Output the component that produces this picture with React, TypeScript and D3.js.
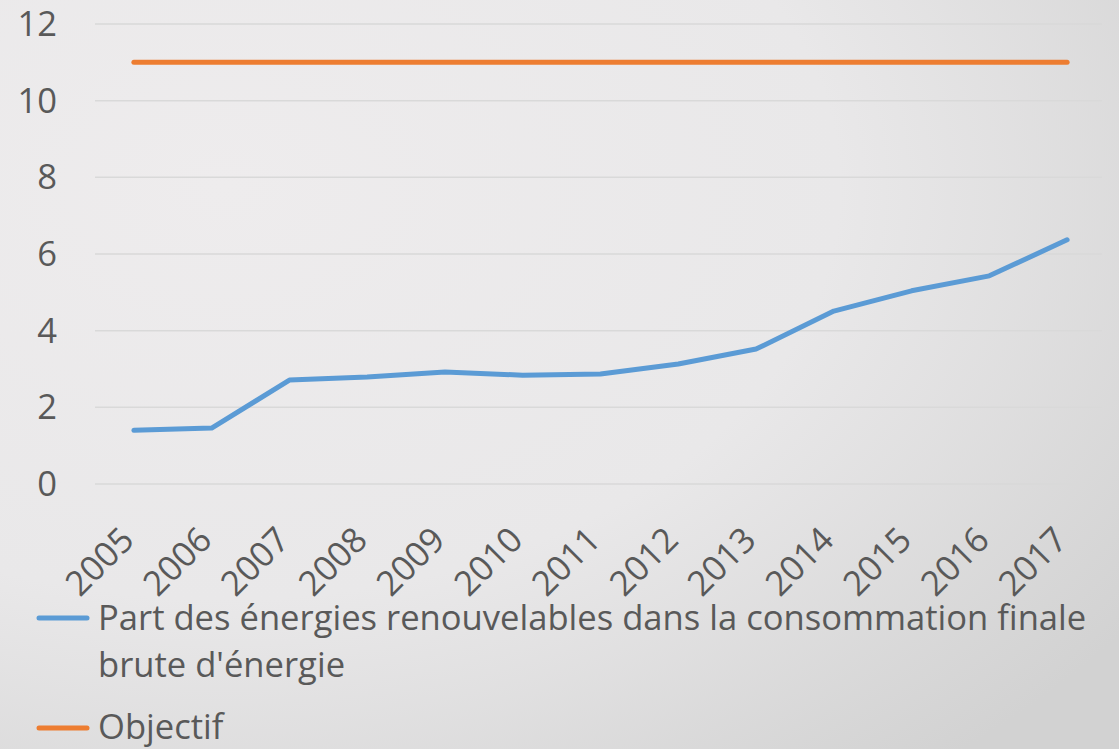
import React, { useEffect, useRef } from "react";
import * as d3 from "d3";

const years = ["2005","2006","2007","2008","2009","2010","2011","2012","2013","2014","2015","2016","2017"];
const shareValues = [1.40, 1.46, 2.71, 2.79, 2.92, 2.84, 2.87, 3.13, 3.52, 4.51, 5.04, 5.43, 6.37];
const targetValues = [11, 11, 11, 11, 11, 11, 11, 11, 11, 11, 11, 11, 11];
const yTicks = [0, 2, 4, 6, 8, 10, 12];
const seriesNames = ["Part des énergies renouvelables dans la consommation finale", "brute d'énergie", "Objectif"];

const W = 1119, H = 749;
const FONT = "'Open Sans', sans-serif";
const FS = 34.6;

export default function App() {
  const ref = useRef<SVGSVGElement>(null);
  useEffect(() => {
    document.body.style.margin = "0";
    const svg = d3.select(ref.current);
    svg.selectAll("*").remove();

    const defs = svg.append("defs");
    const g1 = defs.append("radialGradient").attr("id", "bg").attr("cx", "0.2").attr("cy", "0.25").attr("r", "1.0");
    g1.append("stop").attr("offset", "0").attr("stop-color", "#eeeced");
    g1.append("stop").attr("offset", "0.55").attr("stop-color", "#e9e8e9");
    g1.append("stop").attr("offset", "1").attr("stop-color", "#d2d2d2");
    svg.append("rect").attr("width", W).attr("height", H).attr("fill", "url(#bg)");

    const x = d3.scaleBand().domain(years).range([95, 1106]);
    const y = d3.scaleLinear().domain([0, 12]).range([484, 24]);
    const cx = (d: string) => (x(d) as number) + x.bandwidth() / 2;

    svg.append("g").selectAll("line").data(yTicks).join("line")
      .attr("x1", 95).attr("x2", 1102)
      .attr("y1", d => y(d)).attr("y2", d => y(d))
      .attr("stroke", "#d9d9d9").attr("stroke-width", 1.5);

    svg.append("g").selectAll("text").data(yTicks).join("text")
      .attr("x", 57).attr("y", d => y(d) + 12)
      .attr("text-anchor", "end")
      .attr("font-family", FONT).attr("font-size", FS).attr("fill", "#595959")
      .text(d => d);

    svg.append("g").selectAll("text").data(years).join("text")
      .attr("transform", d => `translate(${cx(d) + 2},${542}) rotate(-45)`)
      .attr("text-anchor", "end")
      .attr("font-family", FONT).attr("font-size", FS).attr("fill", "#595959")
      .text(d => d);

    const line = d3.line<number>().x((_, i) => cx(years[i])).y(d => y(d));
    svg.append("path").datum(targetValues).attr("d", line)
      .attr("fill", "none").attr("stroke", "#ed7d31").attr("stroke-width", 5)
      .attr("stroke-linecap", "round").attr("stroke-linejoin", "round");
    svg.append("path").datum(shareValues).attr("d", line)
      .attr("fill", "none").attr("stroke", "#5b9bd5").attr("stroke-width", 5)
      .attr("stroke-linecap", "round").attr("stroke-linejoin", "round");

    const leg = svg.append("g");
    leg.append("line").attr("x1", 39).attr("x2", 87).attr("y1", 618).attr("y2", 618)
      .attr("stroke", "#5b9bd5").attr("stroke-width", 5).attr("stroke-linecap", "round");
    leg.append("line").attr("x1", 39).attr("x2", 87).attr("y1", 728).attr("y2", 728)
      .attr("stroke", "#ed7d31").attr("stroke-width", 5).attr("stroke-linecap", "round");
    leg.append("text").attr("x", 98).attr("y", 630)
      .attr("font-family", FONT).attr("font-size", FS).attr("fill", "#595959").text(seriesNames[0]);
    leg.append("text").attr("x", 98).attr("y", 677)
      .attr("font-family", FONT).attr("font-size", FS).attr("fill", "#595959").text(seriesNames[1]);
    leg.append("text").attr("x", 98).attr("y", 739)
      .attr("font-family", FONT).attr("font-size", FS).attr("fill", "#595959").text(seriesNames[2]);
  }, []);
  return <svg ref={ref} width={W} height={H} style={{ display: "block" }} />;
}
